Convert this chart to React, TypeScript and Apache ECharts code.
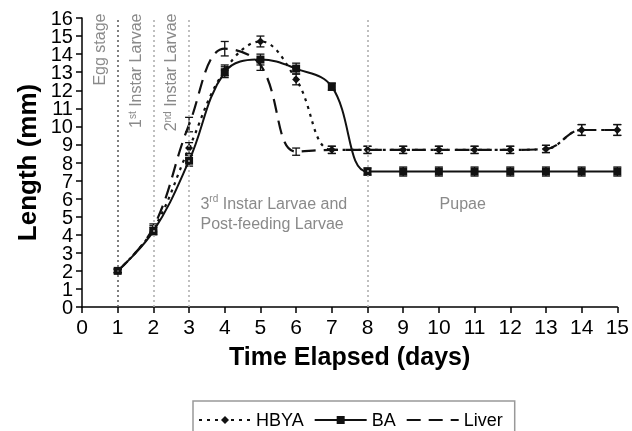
import React, { useEffect, useRef } from 'react';
import * as echarts from 'echarts';

const days = [1, 2, 3, 4, 5, 6, 7, 8, 9, 10, 11, 12, 13, 14, 15];
const hbya = [2.0, 4.3, 8.8, 13.1, 14.7, 12.6, 8.7, 8.7, 8.7, 8.7, 8.7, 8.7, 8.75, 9.8, 9.8];
const ba = [2.0, 4.2, 8.1, 13.0, 13.7, 13.2, 12.2, 7.5, 7.5, 7.5, 7.5, 7.5, 7.5, 7.5, 7.5];
const liver = [2.0, 4.4, 10.1, 14.3, 13.4, 8.6, 8.7, 8.7, 8.7, 8.7, 8.7, 8.7, 8.75, 9.8, 9.8];
const hbyaErr = [0.1, 0.2, 0.3, 0.3, 0.3, 0.3, 0.2, 0.2, 0.2, 0.2, 0.2, 0.2, 0.2, 0.3, 0.3];
const baErr = [0.1, 0.2, 0.3, 0.3, 0.3, 0.3, 0.2, 0.2, 0.25, 0.25, 0.25, 0.25, 0.25, 0.25, 0.25];
const liverErr = [0.1, 0.2, 0.4, 0.4, 0.3, 0.2, 0.2, 0.2, 0.2, 0.2, 0.2, 0.2, 0.2, 0.3, 0.3];
const yTicks = [0, 1, 2, 3, 4, 5, 6, 7, 8, 9, 10, 11, 12, 13, 14, 15, 16];
const stageLines = [1, 2, 3, 8];

export default function App() {
  const ref = useRef<HTMLDivElement>(null);
  useEffect(() => {
    const chart = echarts.init(ref.current as HTMLDivElement, null, { renderer: 'svg' });
    const font = "'Liberation Sans', Arial, sans-serif";
    const ink = '#111';
    const pairs = (vals: number[]) => days.map((d, i) => [d, vals[i]]);
    const errs = (vals: number[], e: number[]) => days.map((d, i) => [d, vals[i], e[i]]);
    const errRender = (params: any, api: any) => {
      const x = api.value(0);
      const y = api.value(1);
      const e = api.value(2);
      const top = api.coord([x, y + e]);
      const bot = api.coord([x, y - e]);
      const c = 4;
      const style = { stroke: ink, lineWidth: 1.3 };
      return {
        type: 'group',
        children: [
          { type: 'line', shape: { x1: top[0], y1: top[1], x2: bot[0], y2: bot[1] }, style },
          { type: 'line', shape: { x1: top[0] - c, y1: top[1], x2: top[0] + c, y2: top[1] }, style },
          { type: 'line', shape: { x1: bot[0] - c, y1: bot[1], x2: bot[0] + c, y2: bot[1] }, style },
        ],
      };
    };
    const errSeries = (name: string, vals: number[], e: number[]) => ({
      type: 'custom',
      name,
      data: errs(vals, e),
      renderItem: errRender,
      encode: { x: 0, y: 1 },
      z: 3,
      silent: true,
    });

    chart.setOption({
      animation: false,
      textStyle: { fontFamily: font },
      grid: { left: 82, right: 11, top: 18, bottom: 124, containLabel: false },
      xAxis: {
        type: 'value',
        min: 0,
        max: 15,
        interval: 1,
        name: 'Time Elapsed (days)',
        nameLocation: 'middle',
        nameGap: 36,
        nameTextStyle: { fontSize: 25, fontWeight: 'bold', color: '#000', fontFamily: font },
        axisLine: { lineStyle: { color: '#000', width: 1.5 } },
        axisTick: { show: true, length: 6, lineStyle: { color: '#000', width: 1.5 } },
        axisLabel: {
          fontSize: 21, color: '#000', margin: 9, fontFamily: font,
          showMinLabel: true, showMaxLabel: true, hideOverlap: false,
        },
        splitLine: { show: false },
      },
      yAxis: {
        type: 'value',
        min: 0,
        max: 16,
        interval: 1,
        name: 'Length (mm)',
        nameLocation: 'middle',
        nameGap: 42,
        nameTextStyle: { fontSize: 26, fontWeight: 'bold', color: '#000', fontFamily: font },
        axisLine: { show: true, lineStyle: { color: '#000', width: 1.5 } },
        axisTick: { show: true, length: 6, lineStyle: { color: '#000', width: 1.5 } },
        axisLabel: { show: false },
        splitLine: { show: false },
      },
      legend: {
        data: [
          { name: 'HBYA' },
          { name: 'BA' },
          { name: 'Liver', itemStyle: { color: 'rgba(0,0,0,0)', borderWidth: 0, opacity: 0 } },
        ],
        left: 193,
        top: 401,
        orient: 'horizontal',
        borderColor: '#999',
        borderWidth: 1.5,
        padding: [10, 12, 22, 5],
        itemGap: 10,
        itemWidth: 52,
        itemHeight: 10,
        textStyle: { fontSize: 18, color: '#000', fontFamily: font },
      },
      series: [
        {
          type: 'line',
          name: 'HBYA',
          data: pairs(hbya),
          smooth: 0.4,
          symbol: 'diamond',
          symbolSize: 8,
          itemStyle: { color: ink },
          lineStyle: { color: ink, width: 2.2, type: [3, 5] },
          z: 4,
        },
        {
          type: 'line',
          name: 'BA',
          data: pairs(ba),
          smooth: 0.4,
          symbol: 'rect',
          symbolSize: 8,
          itemStyle: { color: ink },
          lineStyle: { color: ink, width: 2 },
          z: 4,
          markLine: {
            silent: true,
            symbol: ['none', 'none'],
            label: { show: false },
            lineStyle: { color: '#aaa', width: 1.5, type: [2, 3] },
            data: stageLines.map((v, i) =>
              i === 0 ? { xAxis: v, lineStyle: { color: '#555', width: 1.5, type: [2, 3] } } : { xAxis: v }
            ),
          },
        },
        {
          type: 'line',
          name: 'Liver',
          data: pairs(liver),
          smooth: 0.4,
          symbol: 'none',
          itemStyle: { color: ink },
          lineStyle: { color: ink, width: 2.2, type: [14, 8] },
          z: 4,
        },
        errSeries('HBYA err', hbya, hbyaErr),
        errSeries('BA err', ba, baErr),
        errSeries('Liver err', liver, liverErr),
      ],
    });

    const p = (x: number, y: number) => chart.convertToPixel({ gridIndex: 0 }, [x, y]) as number[];
    const gray = '#8a8a8a';
    const rich = {
      a: { fontSize: 16, fill: gray, color: gray, fontFamily: font },
      s: { fontSize: 10, fill: gray, color: gray, fontFamily: font, verticalAlign: 'top' },
    };
    const egg = p(0.5, 16.25);
    const first = p(1.5, 16.25);
    const second = p(2.47, 16.25);
    const third = p(3.32, 6.3);
    const pupae = p(10.02, 5.75);
    const yLabels = yTicks.map((v) => {
      const pt = p(0, v);
      return {
        type: 'text',
        x: pt[0] - 9,
        y: pt[1],
        silent: true,
        style: {
          text: String(v), fill: '#000', fontSize: 20, lineHeight: 16, fontFamily: font,
          align: 'right', verticalAlign: 'middle',
        },
      };
    });
    chart.setOption({
      graphic: [
        ...yLabels,
        {
          type: 'text', x: egg[0], y: egg[1], rotation: Math.PI / 2,
          style: { text: 'Egg stage', fill: gray, fontSize: 16, fontFamily: font, align: 'right', verticalAlign: 'middle' },
        },
        {
          type: 'text', x: first[0], y: first[1], rotation: Math.PI / 2,
          style: { text: '{a|1}{s|st}{a| Instar Larvae}', rich, align: 'right', verticalAlign: 'middle' },
        },
        {
          type: 'text', x: second[0], y: second[1], rotation: Math.PI / 2,
          style: { text: '{a|2}{s|nd}{a| Instar Larvae}', rich, align: 'right', verticalAlign: 'middle' },
        },
        {
          type: 'text', x: third[0], y: third[1],
          style: {
            text: '{a|3}{s|rd}{a| Instar Larvae and}\n{a|Post-feeding Larvae}',
            rich: { a: { ...rich.a, lineHeight: 20 }, s: { ...rich.s, lineHeight: 20 } },
            align: 'left', verticalAlign: 'top',
          },
        },
        {
          type: 'text', x: pupae[0], y: pupae[1],
          style: { text: 'Pupae', fill: gray, fontSize: 16, fontFamily: font, align: 'left', verticalAlign: 'middle' },
        },
      ],
    });
    return () => chart.dispose();
  }, []);
  return <div ref={ref} style={{ position: 'fixed', left: 0, top: 0, width: 632, height: 431 }} />;
}
